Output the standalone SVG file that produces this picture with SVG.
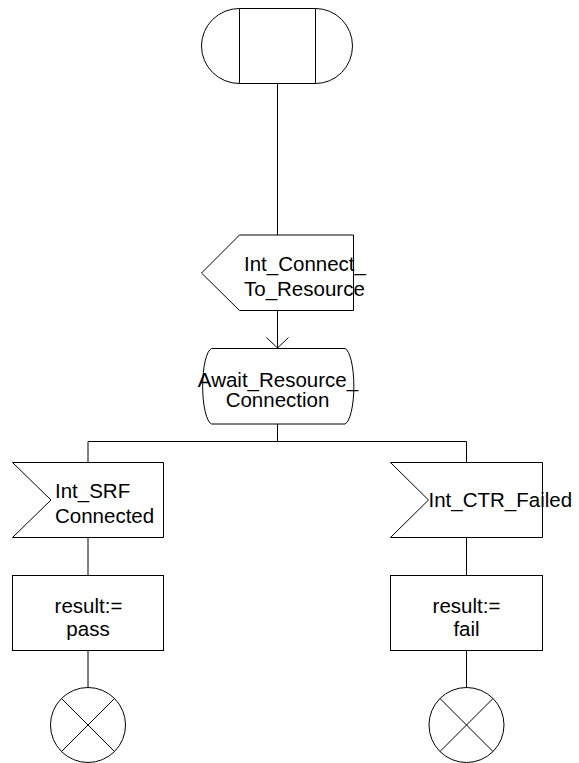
<svg xmlns="http://www.w3.org/2000/svg" width="579" height="763" viewBox="0 0 579 763">
<style>
.s{fill:#fff;stroke:#000;stroke-width:1}
.c{fill:none;stroke:#000;stroke-width:1}
text{font-family:"Liberation Sans",Arial,sans-serif;font-size:20.5px;fill:#000}
.m{text-anchor:middle}
</style>
<rect width="579" height="763" fill="#fff"/>
<g id="connectors">
<path class="c" d="M277.5,83.5V235"/>
<path class="c" d="M277.5,310.5V348"/>
<path class="c" d="M266.5,337.5L277.5,348L288.5,337.5"/>
<path class="c" d="M277.5,424V441.5"/>
<path class="c" d="M88,441.5H466.5"/>
<path class="c" d="M88,441.5V462.5M466.5,441.5V462.5"/>
<path class="c" d="M88,537.5V575.5M466.5,537.5V575.5"/>
<path class="c" d="M88,650.5V688M466.5,650.5V688"/>
</g>
<g id="start">
<path class="s" d="M239.5,8.5H315.5A37,37.5 0 0 1 315.5,83.5H239.5A38,37.5 0 0 1 239.5,8.5Z"/>
<path class="c" d="M239.5,8.5V83.5M315.5,8.5V83.5"/>
</g>
<g id="input_connect">
<path class="s" d="M239.5,235H353.5V310.5H239.5L201.5,273Z"/>
<text x="244" y="271">Int_Connect_</text>
<text x="244" y="296">To_Resource</text>
</g>
<g id="state_await">
<path class="s" d="M211.5,348.5H345A10,38 0 0 1 345,424H211.5A10,38 0 0 1 211.5,348.5Z"/>
<text class="m" x="278" y="387">Await_Resource_</text>
<text class="m" x="277.5" y="407">Connection</text>
</g>
<g id="input_srf">
<path class="s" d="M12.5,462.5H163.5V537.5H12.5L51,500Z"/>
<text x="55" y="498">Int_SRF</text>
<text x="55" y="523">Connected</text>
</g>
<g id="input_ctr_failed">
<path class="s" d="M390.5,462.5H542.5V537.5H390.5L428.5,500Z"/>
<text x="428.5" y="507">Int_CTR_Failed</text>
</g>
<g id="task_pass">
<rect class="s" x="12.5" y="575.5" width="151" height="75"/>
<text class="m" x="88.5" y="613">result:=</text>
<text class="m" x="88" y="636">pass</text>
</g>
<g id="task_fail">
<rect class="s" x="390.5" y="575.5" width="152" height="75"/>
<text class="m" x="466.5" y="613">result:=</text>
<text class="m" x="466.5" y="636">fail</text>
</g>
<g id="stop_pass">
<circle class="s" cx="88" cy="725" r="37.5"/>
<path class="c" d="M61.5,698.5L114.5,751.5M114.5,698.5L61.5,751.5"/>
</g>
<g id="stop_fail">
<circle class="s" cx="466.5" cy="725" r="37.5"/>
<path class="c" d="M440,698.5L493,751.5M493,698.5L440,751.5"/>
</g>
</svg>
